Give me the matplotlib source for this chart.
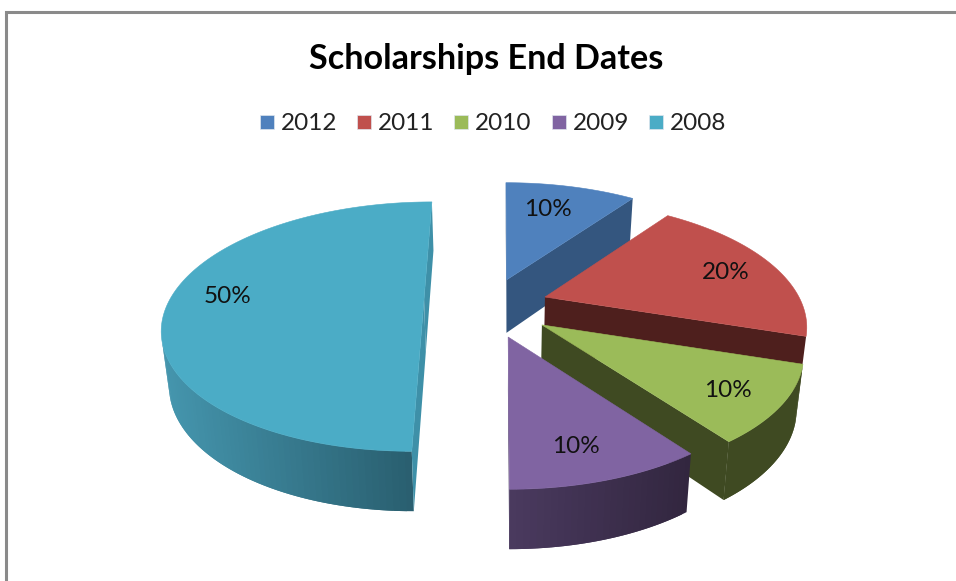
import numpy as np
import matplotlib
matplotlib.use("Agg")
import matplotlib.pyplot as plt
from matplotlib.colors import to_rgb
from matplotlib.patches import Polygon, Rectangle

title = "Scholarships End Dates"
years = ["2012", "2011", "2010", "2009", "2008"]
shares = [10, 20, 10, 10, 50]
top_colors = ["#4f81bd", "#c0504d", "#9bbb59", "#8064a2", "#4bacc6"]

# style: per-slice explosion in pie-plane units, shading of the faces
explode = [(0.026, 0.17), (0.177, 0.025), (0.165, -0.21), (0.032, -0.312), (-0.299, 0.008)]
label_frac = [0.737, 0.794, 0.80, 0.781, 0.787]
label_shift = [-3, 0, 0, 1.7, 3.6]
cut_colors = ["#34567f", "#4e1f1d", "#3f4a22", "#4a3a63", "#3e90a8"]
side_left = ["#34567f", "#4e1f1d", "#3f4a22", "#4a3a5f", "#4596ae"]
side_right = ["#34567f", "#4e1f1d", "#3f4a22", "#32263f", "#275a6a"]

CX, CY, A, K, P = 500.0, 300.0, 254.0, 118.6, 0.221
DEPTH, DEPTH_GAIN, SHRINK, LEAN = 53.0, 0.46, 0.977, 0.57


def project(X, Y, off, low=False):
    X, Y = np.asarray(X, float), np.asarray(Y, float)
    f = 1.0 / (1.0 + P * Y)
    x = CX + A * off[0] * (1 + LEAN * (f - 1)) + A * X * f
    y = CY - K * off[1] - K * Y * f
    if low:
        return CX + (x - CX) * SHRINK, y + DEPTH * (1 + DEPTH_GAIN * (f - 1))
    return x, y


def area(pts):
    p = np.asarray(pts)
    return 0.5 * np.sum(p[:, 0] * np.roll(p[:, 1], -1) - np.roll(p[:, 0], -1) * p[:, 1])


fig = plt.figure(figsize=(9.56, 5.81), dpi=100)
ax = fig.add_axes([0, 0, 1, 1])
ax.set_xlim(0, 956)
ax.set_ylim(581, 0)
ax.axis("off")
fam = ["Lato", "DejaVu Sans"]

ax.plot([6, 6, 956], [581, 12, 12], color="#8a8a8a", lw=2.2, solid_joinstyle="miter")

total = sum(shares)
edges = np.cumsum([0] + shares) / total * 2 * np.pi
labels_xy = []


def face(xs_, ys_, off, color):
    """Add a side face running along a path, if it looks at the viewer."""
    pa = project(xs_, ys_, off)
    pb = project(xs_[::-1], ys_[::-1], off, low=True)
    pts = list(zip(pa[0], pa[1])) + list(zip(pb[0], pb[1]))
    if area(pts) < 0:
        ax.add_patch(Polygon(pts, closed=True, fc=color, ec="none", lw=0))


for i in range(len(shares)):
    a0, a1 = edges[i], edges[i + 1]
    off = explode[i]
    th = np.linspace(a0, a1, max(12, int(shares[i] * 3)))
    X = np.sin(th)
    Y = np.cos(th)

    cl, cr = np.array(to_rgb(side_left[i])), np.array(to_rgb(side_right[i]))
    xs = project(X, Y, off)[0]
    for j in range(len(th) - 1):
        t = np.clip((0.5 * (xs[j] + xs[j + 1]) - xs.min()) / max(np.ptp(xs), 1), 0, 1)
        stop = min(j + 3, len(th))  # overlap the next strip so no seams show
        face(X[j:stop], Y[j:stop], off, tuple(cl + (cr - cl) * t))
    face(np.array([0.0, X[0]]), np.array([0.0, Y[0]]), off, cut_colors[i])
    face(np.array([X[-1], 0.0]), np.array([Y[-1], 0.0]), off, cut_colors[i])

    px, py = project(np.r_[0, X], np.r_[0, Y], off)
    ax.add_patch(Polygon(np.c_[px, py], closed=True, fc=top_colors[i], ec=top_colors[i], lw=0.4))

    mid = 0.5 * (a0 + a1) + np.deg2rad(label_shift[i])
    labels_xy.append(project(label_frac[i] * np.sin(mid), label_frac[i] * np.cos(mid), off))

for (lx, ly), v in zip(labels_xy, shares):
    ax.text(float(lx), float(ly) + 3, f"{round(100 * v / total)}%", fontsize=17.5, color="#111111",
            ha="center", va="center", family=fam)

ax.text(486, 59, title, fontsize=24.6, fontweight="bold", color="black",
        ha="center", va="center", family=fam)

leg_x = [260, 357, 454, 552, 649]
for x, name, c in zip(leg_x, years, top_colors):
    ax.add_patch(Rectangle((x, 115), 14, 14, fc=c, ec="#dfe6ee", lw=0.5))
    ax.text(x + 21, 123, name, fontsize=17.5, color="#222222", ha="left", va="center", family=fam)

fig.savefig("out.png", dpi=100)
